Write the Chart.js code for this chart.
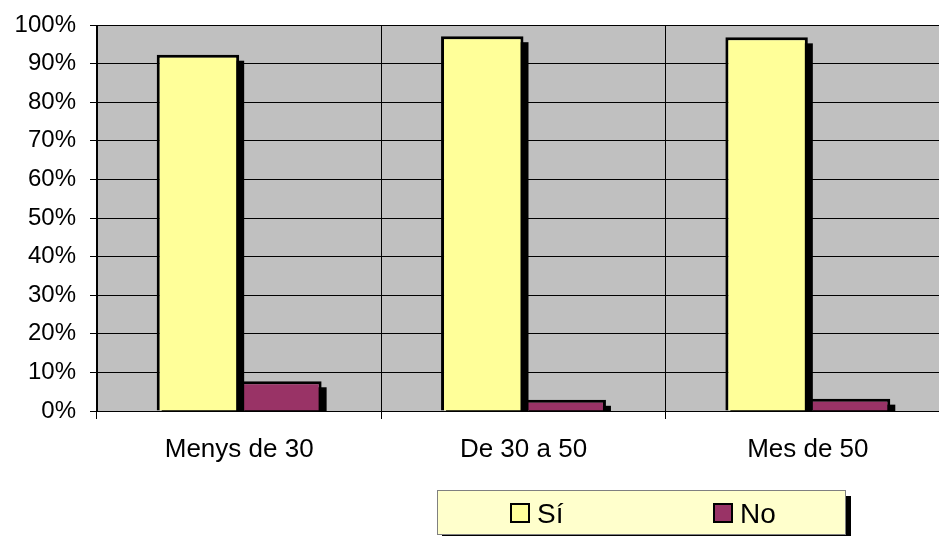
<!DOCTYPE html>
<html>
<head>
<meta charset="utf-8">
<title>Sí / No per edat</title>
<script src="https://cdn.jsdelivr.net/npm/chart.js@4/dist/chart.umd.min.js"></script>
<style>
    html, body { margin: 0; padding: 0; background: #fff; overflow: hidden; }
    canvas { display: block; }
</style>
</head>
<body>
<canvas id="chart" width="960" height="536"></canvas>
<script>
    "use strict";

    // Data
    var categories = ["Menys de 30", "De 30 a 50", "Mes de 50"];
    var siValues = [92.3, 97.1, 96.8];
    var noValues = [7.7, 2.9, 3.2];
    var yTicks = [0, 10, 20, 30, 40, 50, 60, 70, 80, 90, 100];

    var fontFamily = "'Liberation Sans', Arial, sans-serif";
    Chart.defaults.font.family = fontFamily;
    Chart.defaults.font.size = 24;
    Chart.defaults.color = "#000";


    // Gray plot background
    var plotBg = {
        id: "plotBg",
        beforeDraw: function (chart) {
            var a = chart.chartArea, ctx = chart.ctx;
            ctx.save();
            ctx.fillStyle = "#C0C0C0";
            ctx.fillRect(a.left, a.top, a.right - a.left, a.bottom - a.top);
            ctx.restore();
        }
    };

    // Black drop shadow behind each bar (drawn just before its dataset)
    var barShadow = {
        id: "barShadow",
        beforeDatasetDraw: function (chart, args) {
            var a = chart.chartArea, ctx = chart.ctx;
            ctx.save();
            ctx.beginPath();
            ctx.rect(a.left, a.top, a.right - a.left, a.bottom - a.top);
            ctx.clip();
            ctx.fillStyle = "#000";
            args.meta.data.forEach(function (bar) {
                var p = bar.getProps(["x", "y", "base", "width"], true);
                ctx.fillRect(p.x - p.width / 2 + 5, p.y + 6, p.width, p.base - p.y);
            });
            ctx.restore();
        }
    };

    // Boxed legend at the bottom
    var boxLegend = {
        id: "boxLegend",
        afterDraw: function (chart) {
            var ctx = chart.ctx;
            var x = 437, y = 490, w = 409, h = 45;
            ctx.save();
            ctx.fillStyle = "#000";
            ctx.fillRect(x + 5, y + 6, w, h);
            ctx.fillStyle = "#FFFFCC";
            ctx.fillRect(x, y, w, h);
            ctx.strokeStyle = "#808080";
            ctx.lineWidth = 1;
            ctx.strokeRect(x + 0.5, y + 0.5, w - 1, h - 1);

            var itemX = [510, 713];
            ctx.font = "28px " + fontFamily;
            ctx.textBaseline = "alphabetic";
            chart.data.datasets.forEach(function (ds, i) {
                var bx = itemX[i], by = 503;
                ctx.fillStyle = ds.backgroundColor;
                ctx.fillRect(bx, by, 20, 20);
                ctx.strokeStyle = "#000";
                ctx.lineWidth = 2;
                ctx.strokeRect(bx + 1, by + 1, 18, 18);
                ctx.fillStyle = "#000";
                ctx.fillText(ds.label, bx + 27, 523);
            });
            ctx.restore();
        }
    };


    var ctx = document.getElementById("chart").getContext("2d");
    var myChart = new Chart(ctx, {
        type: "bar",
        data: {
            labels: categories,
            datasets: [{
                label: "Sí",
                data: siValues,
                backgroundColor: "#FFFF99",
                borderColor: "#000",
                borderWidth: 3
            },
            {
                label: "No",
                data: noValues,
                backgroundColor: "#993366",
                borderColor: "#000",
                borderWidth: 3
            }]
        },
        options: {
            responsive: false,
            animation: false,
            layout: {
                padding: { top: 25, right: 10, bottom: 0, left: 0 }
            },
            categoryPercentage: 0.58,
            barPercentage: 1.0,
            plugins: {
                legend: { display: false },
                tooltip: { enabled: false }
            },
            scales: {
                x: {
                    grid: {
                        color: "#000",
                        lineWidth: 1,
                        tickLength: 8,
                        offset: true
                    },
                    border: { color: "#000", width: 1 },
                    ticks: { padding: 15, color: "#000", font: { size: 26 } },
                    afterFit: function (scale) {
                        scale.height = 125;
                        scale.paddingLeft = 0;
                        scale.paddingRight = 0;
                    }
                },
                y: {
                    min: 0,
                    max: 100,
                    afterBuildTicks: function (scale) {
                        scale.ticks = yTicks.map(function (v) { return { value: v }; });
                    },
                    grid: {
                        color: "#000",
                        lineWidth: 1,
                        tickLength: 7
                    },
                    border: { color: "#000", width: 1 },
                    ticks: {
                        padding: 14,
                        color: "#000",
                        callback: function (v) { return v + "%"; }
                    },
                    afterFit: function (scale) {
                        scale.width = 97;
                        scale.paddingTop = 0;
                        scale.paddingBottom = 0;
                    }
                }
            }
        },
        plugins: [plotBg, barShadow, boxLegend]
    });
</script>
</body>
</html>
